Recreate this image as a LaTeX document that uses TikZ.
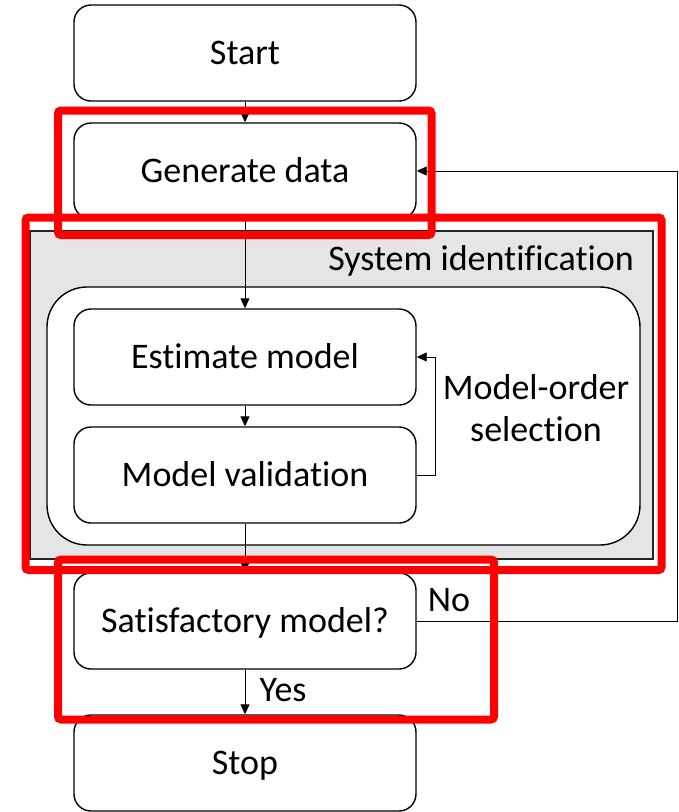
\documentclass[tikz,border=0pt]{standalone}
\usepackage{fontspec}
\setmainfont{Carlito}[Ligatures=NoCommon]
\usetikzlibrary{arrows.meta}
\begin{document}
\begin{tikzpicture}[x=1pt,y=-1pt,
  box/.style={draw=black, line width=1.4pt, rounded corners=17pt, minimum width=342pt, minimum height=96pt, inner sep=0pt, font=\fontsize{36}{42}\selectfont, text height=23pt, text depth=0pt, fill=white},
  lbl/.style={font=\fontsize{36}{42}\selectfont, inner sep=0pt},
  conn/.style={line width=0.9pt, -{Triangle[length=10pt,width=9pt]}},
  redbox/.style={draw=red, line width=8pt, rounded corners=3pt}]
\path[use as bounding box] (0,0) rectangle (679,812);
\clip (0,0) rectangle (679,812);
% system identification container
\node[draw=black!85, line width=1.6pt, fill=black!10, minimum width=623pt, minimum height=328pt, inner sep=0pt] (sysid) at (341.5,395) {};
\node[lbl, anchor=base east] (sysidlbl) at (634,270) {System identification};
\node[draw=black, line width=1.4pt, fill=white, rounded corners=40pt, minimum width=593pt, minimum height=258pt, inner sep=0pt] (inner) at (343.5,416) {};
% boxes
\node[box] (start) at (245,53) {Start};
\node[box] (gen) at (245,171) {Generate data};
\node[box] (est) at (245,357) {Estimate model};
\node[box] (val) at (245,475) {Model validation};
\node[box] (sat) at (245,621) {Satisfactory model?};
\node[box] (stop) at (245,763) {Stop};
\node[lbl, align=center] (mos) at (536,408) {Model-order\\selection};
\node[lbl] (no) at (449,600) {No};
\node[lbl] (yes) at (283,690) {Yes};
% connectors
\draw[conn] (start.south) -- (gen.north);
\draw[conn] (gen.south) -- (est.north);
\draw[conn] (est.south) -- (val.north);
\draw[conn] (val.south) -- (sat.north);
\draw[conn] (sat.south) -- (stop.north);
\coordinate (loopx) at (435,0);
\draw[conn] (val.east) -- (val.east -| loopx) -- (est.east -| loopx) -- (est.east);
\coordinate (fbx) at (677.5,0);
\draw[conn] (sat.east) -- (sat.east -| fbx) -- (gen.east -| fbx) -- (gen.east);
% red highlight rectangles
\draw[redbox] (58,110.5) rectangle (431.5,235);
\draw[redbox] (25.5,217.5) rectangle (661.5,570);
\draw[redbox] (58,559.5) rectangle (494,719.5);
\end{tikzpicture}
\end{document}
